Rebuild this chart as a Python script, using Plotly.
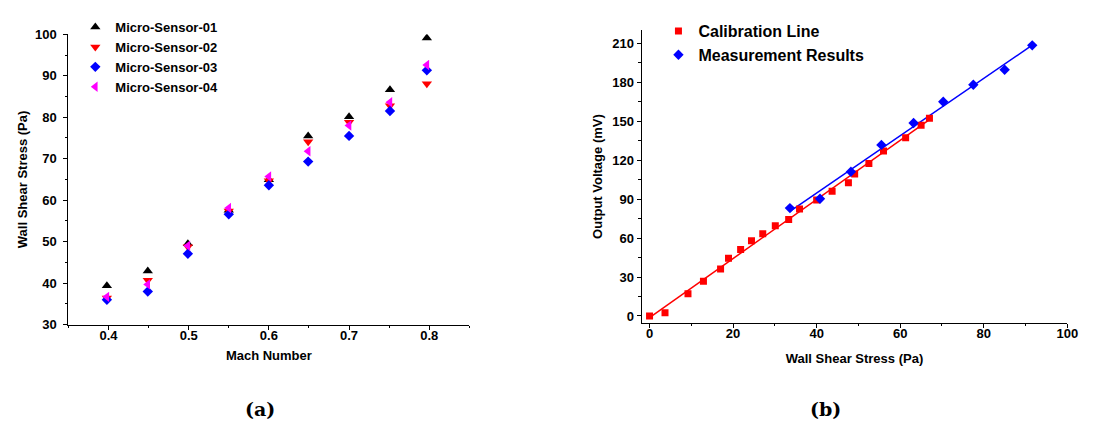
import numpy as np
import plotly.graph_objects as go

# ---- Panel (a) data ----
mach = [0.398, 0.449, 0.499, 0.55, 0.6, 0.649, 0.7, 0.751, 0.797]
sensor01 = [39.4, 42.9, 49.5, 57.6, 64.9, 75.5, 80.1, 86.6, 99.1]
sensor02 = [36.4, 40.7, 48.8, 57.4, 64.7, 74.1, 78.8, 82.8, 88.1]
sensor03 = [36.0, 38.0, 47.1, 56.6, 63.6, 69.3, 75.5, 81.5, 91.3]
sensor04 = [36.7, 39.7, 49.0, 58.1, 65.7, 71.8, 78.0, 83.6, 92.6]

# ---- Panel (b) data ----
cal_x = [0, 3.7, 9.2, 12.9, 17.0, 18.9, 21.8, 24.4, 27.1, 30.1, 33.3, 35.9, 40.0,
         43.7, 47.6, 49.1, 52.5, 56.0, 61.3, 65.0, 67.0]
cal_y = [0, 2.5, 17.1, 26.7, 36.1, 44.5, 51.2, 57.9, 63.3, 69.5, 74.4, 82.4, 89.3,
         96.0, 102.6, 109.3, 117.5, 127.1, 137.3, 146.9, 152.4]
meas_x = [33.6, 40.8, 48.2, 55.5, 63.2, 70.3, 77.5, 85.0, 91.6]
meas_y = [83.1, 90.3, 111.1, 131.8, 148.7, 165.0, 178.1, 189.7, 208.5]

BOLD = dict(family="Liberation Sans, Arial, sans-serif", size=13, color="black", weight="bold")

fig = go.Figure()

series_a = [
    ("Micro-Sensor-01", sensor01, "triangle-up", "black", 9),
    ("Micro-Sensor-02", sensor02, "triangle-down", "#ff0000", 9),
    ("Micro-Sensor-03", sensor03, "diamond", "#0000ff", 8),
    ("Micro-Sensor-04", sensor04, "triangle-left", "#ff00ff", 9),
]
for name, ys, sym, col, sz in series_a:
    fig.add_trace(go.Scatter(x=mach, y=ys, mode="markers", name=name,
                             marker=dict(symbol=sym, color=col, size=sz, line=dict(width=0)),
                             xaxis="x", yaxis="y", legend="legend"))

# fits for panel (b)
c1 = np.polyfit(cal_x, cal_y, 1)
fx1 = np.array([min(cal_x), max(cal_x)])
c2 = np.polyfit(meas_x, meas_y, 1)
fx2 = np.array([min(meas_x), max(meas_x)])

fig.add_trace(go.Scatter(x=fx1, y=np.polyval(c1, fx1), mode="lines", showlegend=False,
                         line=dict(color="#ff0000", width=1.5), xaxis="x2", yaxis="y2"))
fig.add_trace(go.Scatter(x=fx2, y=np.polyval(c2, fx2), mode="lines", showlegend=False,
                         line=dict(color="#0000ff", width=1.5), xaxis="x2", yaxis="y2"))
fig.add_trace(go.Scatter(x=cal_x, y=cal_y, mode="markers", name="Calibration Line",
                         marker=dict(symbol="square", color="#ff0000", size=7, line=dict(width=0)),
                         xaxis="x2", yaxis="y2", legend="legend2"))
fig.add_trace(go.Scatter(x=meas_x, y=meas_y, mode="markers", name="Measurement Results",
                         marker=dict(symbol="diamond", color="#0000ff", size=8, line=dict(width=0)),
                         xaxis="x2", yaxis="y2", legend="legend2"))

W, H = 1102, 423
def px(v): return v / W
def py(v): return 1 - v / H

axis_common = dict(showline=True, linecolor="black", linewidth=1.2, showgrid=False,
                   zeroline=False, ticks="outside", ticklen=4, tickwidth=1.2,
                   tickcolor="black", tickfont=BOLD, mirror=False)
minor_common = dict(ticks="outside", ticklen=2.5, tickcolor="black", tickwidth=1.2)

fig.update_layout(
    width=W, height=H, margin=dict(l=0, r=0, t=0, b=0),
    paper_bgcolor="white", plot_bgcolor="white",
    font=BOLD,
    xaxis=dict(domain=[px(61), px(466)], range=[0.35, 0.85], anchor="y",
               tickvals=[0.4, 0.5, 0.6, 0.7, 0.8], ticklabelstandoff=-5,
               minor=dict(dtick=0.05, tick0=0.35, **minor_common),
               title=dict(text="Mach Number", font=BOLD, standoff=8), **axis_common),
    yaxis=dict(domain=[py(321), py(20)], range=[30, 100], anchor="x",
               dtick=10, tick0=30, ticklabelstandoff=4,
               minor=dict(dtick=5, tick0=30, **minor_common),
               title=dict(text="Wall Shear Stress (Pa)", font=BOLD, standoff=4), **axis_common),
    xaxis2=dict(domain=[px(640), px(1070)], range=[-1.9, 100], anchor="y2",
                dtick=20, tick0=0, ticklabelstandoff=-5,
                minor=dict(dtick=10, tick0=0, **minor_common),
                title=dict(text="Wall Shear Stress (Pa)", font=BOLD, standoff=13), **axis_common),
    yaxis2=dict(domain=[py(319), py(16)], range=[-5.2, 220], anchor="x2",
                dtick=30, tick0=0,
                minor=dict(dtick=15, tick0=0, **minor_common),
                title=dict(text="Output Voltage (mV)", font=BOLD, standoff=6), **axis_common),
    legend=dict(x=px(68), y=py(-3), xanchor="left", yanchor="top", bgcolor="rgba(0,0,0,0)",
                font=BOLD, tracegroupgap=0, itemsizing="trace"),
    legend2=dict(x=px(657), y=py(-1), xanchor="left", yanchor="top", bgcolor="rgba(0,0,0,0)",
                 font=dict(family="Liberation Sans, Arial, sans-serif", size=16, color="black", weight="bold"),
                 tracegroupgap=0, itemsizing="trace"),
    annotations=[
        dict(text="(<b>a</b>)", x=px(237), y=py(422), xref="paper", yref="paper",
             showarrow=False, font=dict(family="DejaVu Serif, serif", size=19, color="black")),
        dict(text="(<b>b</b>)", x=px(843), y=py(422), xref="paper", yref="paper",
             showarrow=False, font=dict(family="DejaVu Serif, serif", size=19, color="black")),
    ],
)

fig.write_html("out.html")
